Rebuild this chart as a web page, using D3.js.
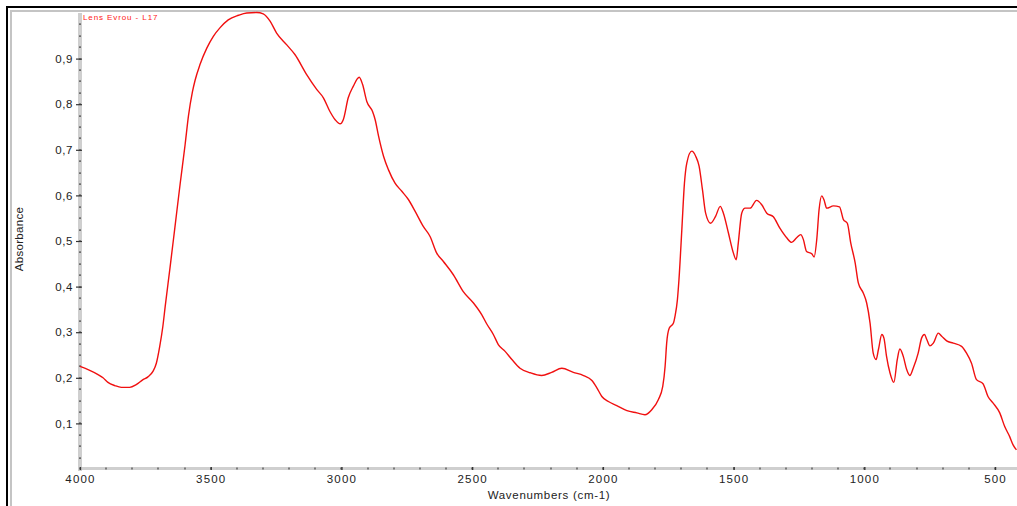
<!DOCTYPE html>
<html>
<head>
<meta charset="utf-8">
<script src="https://cdn.jsdelivr.net/npm/d3@7"></script>
<style>
  body { margin: 0; background: #fff; }
  svg { display: block; }
  text { font-family: "Liberation Sans", Arial, sans-serif; }
</style>
</head>
<body>
<div id="chart"></div>
<script>
// spectrum, wavenumber (cm-1) vs absorbance
const wavenumbers = [4000, 3969, 3931, 3912, 3893, 3867, 3842, 3810, 3785, 3759, 3740, 3721, 3708, 3695, 3683, 3674, 3656,
  3637, 3617, 3598, 3585, 3570, 3560, 3541, 3515, 3490, 3464, 3433, 3394, 3362, 3324, 3299, 3273, 3248, 3209, 3178, 3133, 3094,
  3069, 3044, 3024, 3005, 2993, 2974, 2955, 2932, 2919, 2903, 2881, 2871, 2858, 2839, 2820, 2795, 2769, 2744, 2718, 2687,
  2661, 2636, 2610, 2572, 2534, 2495, 2463, 2444, 2419, 2400, 2374, 2348, 2317, 2278, 2234, 2196, 2157, 2113, 2074, 2042,
  2023, 2004, 1979, 1947, 1908, 1870, 1839, 1813, 1788, 1771, 1762, 1756, 1746, 1730, 1724, 1715, 1709, 1698, 1688,
  1679, 1660, 1645, 1632, 1619, 1607, 1588, 1569, 1551, 1539, 1520, 1501, 1490, 1482, 1469, 1456, 1437, 1412, 1393, 1373,
  1348, 1323, 1297, 1278, 1259, 1243, 1233, 1221, 1201, 1192, 1182, 1173, 1163, 1154, 1144, 1118, 1095, 1080, 1065, 1052,
  1035, 1023, 1004, 991, 978, 966, 955, 946, 933, 925, 915, 902, 887, 874, 864, 851, 838, 826, 813, 794, 781, 770, 761,
  749, 736, 717, 704, 685, 660, 628, 609, 590, 571, 546, 527, 508, 482, 463, 444, 431, 418];
const absorbance = [0.225, 0.218, 0.207, 0.20, 0.19, 0.183, 0.179, 0.179, 0.185, 0.196, 0.202, 0.214, 0.232, 0.269, 0.313, 0.357, 0.44,
  0.53, 0.625, 0.711, 0.775, 0.827, 0.852, 0.887, 0.923, 0.949, 0.968, 0.985, 0.995, 1.0, 1.001, 0.998, 0.982, 0.956, 0.93, 0.909, 0.865, 0.832,
  0.814, 0.784, 0.766, 0.757, 0.766, 0.814, 0.839, 0.859, 0.843, 0.806, 0.784, 0.766, 0.73, 0.686, 0.656, 0.627, 0.609, 0.591, 0.565, 0.532,
  0.51, 0.474, 0.455, 0.426, 0.389, 0.364, 0.338, 0.318, 0.295, 0.273, 0.258, 0.24, 0.221, 0.211, 0.205, 0.212, 0.221, 0.212, 0.205, 0.194,
  0.178, 0.159, 0.148, 0.139, 0.128, 0.123, 0.119, 0.13, 0.152, 0.181, 0.225, 0.276, 0.309, 0.32, 0.335, 0.371, 0.415, 0.525, 0.627,
  0.671, 0.697, 0.686, 0.664, 0.612, 0.561, 0.539, 0.554, 0.576, 0.561, 0.518, 0.474, 0.459, 0.496, 0.561, 0.572, 0.572, 0.589, 0.58, 0.561,
  0.553, 0.528, 0.507, 0.497, 0.507, 0.514, 0.503, 0.477, 0.472, 0.465, 0.503, 0.569, 0.599, 0.59, 0.572, 0.577, 0.575, 0.547, 0.539, 0.496,
  0.452, 0.408, 0.386, 0.364, 0.32, 0.254, 0.24, 0.262, 0.295, 0.287, 0.247, 0.211, 0.19, 0.24, 0.263, 0.247, 0.218, 0.205, 0.221, 0.254, 0.287, 0.295, 0.284,
  0.27, 0.276, 0.298, 0.291, 0.281, 0.276, 0.269, 0.254, 0.232, 0.196, 0.187, 0.159, 0.145, 0.123, 0.093, 0.071, 0.053, 0.042];

const xMajor = [4000, 3500, 3000, 2500, 2000, 1500, 1000, 500];
const yMajor = [0.1, 0.2, 0.3, 0.4, 0.5, 0.6, 0.7, 0.8, 0.9];
const sampleName = "Lens Evrou - L17";

const W = 1017, H = 506;
const plotL = 80, plotR = 1017, plotT = 13, plotB = 469;

var svg = d3.select("#chart").append("svg")
    .attr("width", W)
    .attr("height", H);

var x = d3.scaleLinear().domain([4000, 416]).range([plotL, plotR]);
var y = d3.scaleLinear().domain([0, 1.0]).range([plotB, plotT]);

// frame
svg.append("line").attr("x1", 7).attr("x2", 7).attr("y1", 6).attr("y2", H)
    .attr("stroke", "#000").attr("stroke-width", 2);
svg.append("line").attr("x1", 6).attr("x2", W).attr("y1", 7).attr("y2", 7)
    .attr("stroke", "#000").attr("stroke-width", 2);
svg.append("line").attr("x1", 11).attr("x2", 11).attr("y1", 10).attr("y2", H)
    .attr("stroke", "#c4c4c4").attr("stroke-width", 2);
svg.append("line").attr("x1", 10).attr("x2", W).attr("y1", 11).attr("y2", 11)
    .attr("stroke", "#c4c4c4").attr("stroke-width", 2);

// axis bands
svg.append("line").attr("x1", plotL).attr("x2", plotL).attr("y1", plotT).attr("y2", plotB + 2)
    .attr("stroke", "#cfcfcf").attr("stroke-width", 4);
svg.append("line").attr("x1", plotL - 2).attr("x2", plotR).attr("y1", 468.5).attr("y2", 468.5)
    .attr("stroke", "#cfcfcf").attr("stroke-width", 3);

// minor ticks
var yMinor = d3.range(1, 40).map(function(i){ return i * 0.025; });
svg.selectAll(".ymin").data(yMinor).enter().append("rect")
    .attr("class", "ymin")
    .attr("x", plotL - 1).attr("width", 2)
    .attr("y", function(d){ return Math.round(y(d)) - 0.5; }).attr("height", 1.2)
    .attr("fill", "#444");
var xMinor = d3.range(4000, 416, -100);
svg.selectAll(".xmin").data(xMinor).enter().append("rect")
    .attr("class", "xmin")
    .attr("x", function(d){ return Math.round(x(d)) - 0.6; }).attr("width", 1.2)
    .attr("y", 467.5).attr("height", 2)
    .attr("fill", "#444");

// y axis
var yAxis = d3.axisLeft(y).tickValues(yMajor).tickSize(6).tickPadding(3)
    .tickFormat(function(d){ return d3.format(".1f")(d).replace(".", ","); });
var gy = svg.append("g").attr("transform", "translate(" + (plotL + 2) + ",0)").call(yAxis);
gy.select(".domain").remove();
gy.selectAll("line").attr("stroke", "#333").attr("stroke-width", 1.2);
gy.selectAll("text").attr("font-size", 11.5).attr("fill", "#222").attr("letter-spacing", 0.6)
    .attr("font-family", "Liberation Sans, Arial, sans-serif");

// x axis
var xAxis = d3.axisBottom(x).tickValues(xMajor).tickSize(3).tickPadding(5)
    .tickFormat(d3.format("d"));
var gx = svg.append("g").attr("transform", "translate(0,467)").call(xAxis);
gx.select(".domain").remove();
gx.selectAll("line").attr("stroke", "#333").attr("stroke-width", 1.4);
gx.selectAll("text").attr("font-size", 11.5).attr("fill", "#222").attr("letter-spacing", 1.2)
    .attr("font-family", "Liberation Sans, Arial, sans-serif");

// axis titles
svg.append("text").attr("x", 549).attr("y", 499).attr("text-anchor", "middle")
    .attr("font-size", 11.5).attr("letter-spacing", 0.7).attr("fill", "#222")
    .text("Wavenumbers (cm-1)");
svg.append("text").attr("transform", "translate(23,239) rotate(-90)").attr("text-anchor", "middle")
    .attr("font-size", 11.5).attr("letter-spacing", 0.3).attr("fill", "#222")
    .text("Absorbance");

// sample name
svg.append("text").attr("x", 83).attr("y", 20).attr("font-size", 8).attr("letter-spacing", 0.9)
    .attr("fill", "#ff2020").text(sampleName);

// spectrum
var pts = wavenumbers.map(function(w, i){ return [w, absorbance[i]]; });
var line = d3.line()
    .x(function(d){ return x(d[0]); })
    .y(function(d){ return y(d[1]); })
    .curve(d3.curveMonotoneX);
svg.append("path").datum(pts)
    .attr("d", line)
    .attr("fill", "none")
    .attr("stroke", "#f01010")
    .attr("stroke-width", 1.4);
</script>
</body>
</html>
